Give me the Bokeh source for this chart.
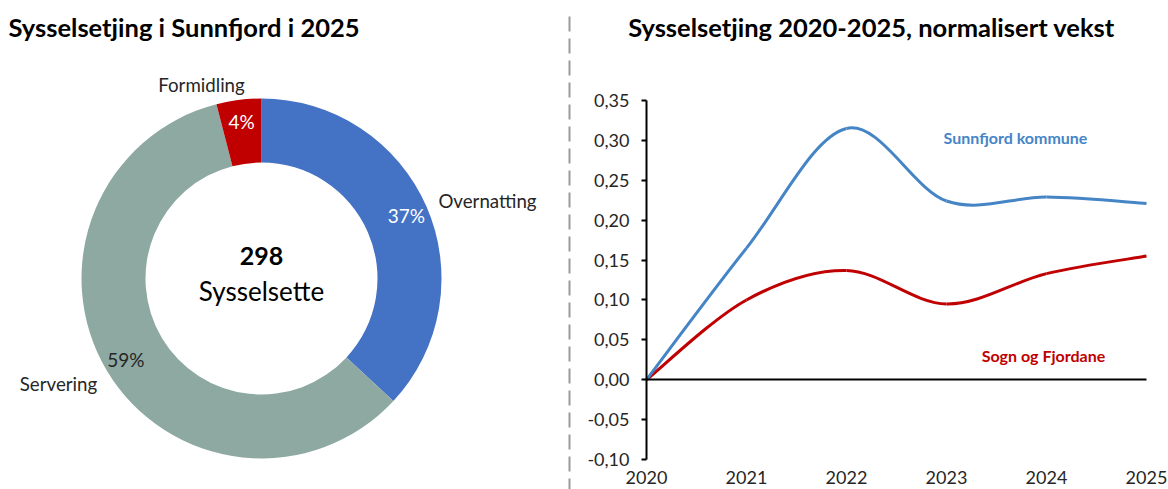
import math
from bokeh.plotting import figure
from bokeh.models import Range1d, LinearAxis, FixedTicker, CustomJSTickFormatter
from bokeh.core.properties import value
from bokeh.embed import file_html
from bokeh.resources import INLINE

# ---------------- data ----------------
donut_categories = ["Overnatting", "Servering", "Formidling"]
donut_values = [110, 176, 12]
donut_colors = ["#4472C4", "#8DA9A2", "#C00000"]
total_label = "298"
center_label = "Sysselsette"

years = [2020, 2021, 2022, 2023, 2024, 2025]
sunnfjord = [0.0, 0.165, 0.315, 0.224, 0.229, 0.221]
sogn_fjordane = [0.0, 0.100, 0.137, 0.095, 0.133, 0.155]
y_ticks = [-0.10, -0.05, 0.0, 0.05, 0.10, 0.15, 0.20, 0.25, 0.30, 0.35]

title_left = "Sysselsetjing i Sunnfjord i 2025"
title_right = "Sysselsetjing 2020-2025, normalisert vekst"
series_names = ["Sunnfjord kommune", "Sogn og Fjordane"]
series_colors = ["#4585C6", "#C00000"]

FONT = "Lato"
W, H = 1168, 489
OFF = 0  # page offset of the canvas

# ---------------- layout (page pixel targets) ----------------
px_x0, px_x1 = 646, 1146      # page x of first / last year
px_ytop, px_ybot = 100, 459   # page y of top / bottom y tick
ppx = (px_x1 - px_x0) / (years[-1] - years[0])
ppy = (px_ybot - px_ytop) / (y_ticks[-1] - y_ticks[0])
x_start = years[0] - (px_x0 - OFF) / ppx
x_end = years[-1] + (OFF + W - px_x1) / ppx
y_end = y_ticks[-1] + (px_ytop - OFF) / ppy
y_start = y_ticks[0] - (OFF + H - px_ybot) / ppy

p = figure(width=W, height=H, x_range=Range1d(x_start, x_end), y_range=Range1d(y_start, y_end),
           x_axis_location=None, y_axis_location=None, toolbar_location=None,
           output_backend="svg", min_border=0, outline_line_color=None)
p.grid.visible = False
p.background_fill_color = "white"
p.border_fill_color = "white"
p.extra_x_ranges = {"px": Range1d(OFF, OFF + W)}
p.extra_y_ranges = {"py": Range1d(0, H)}


def PY(page_y):
    return OFF + H - page_y


PX = dict(x_range_name="px", y_range_name="py")

# ---------------- donut ----------------
cx, cy = 261, 278
r_out, r_in = 180, 116
total = sum(donut_values)
starts, ends, mids = [], [], []
cum = 0.0
for v in donut_values:
    a0 = math.pi / 2 - 2 * math.pi * cum / total
    cum += v
    a1 = math.pi / 2 - 2 * math.pi * cum / total
    starts.append(a0)
    ends.append(a1)
    mids.append((a0 + a1) / 2)

p.annular_wedge(x=cx, y=PY(cy), inner_radius=r_in, outer_radius=r_out,
                start_angle=starts, end_angle=ends, direction="clock",
                fill_color=donut_colors, line_color=None, **PX)

# percentage labels
r_lbl = 158
pct_text = [f"{round(v / total * 100)}%" for v in donut_values]
pct_colors = ["white", "#262626", "white"]
p.text(x=[cx + r_lbl * math.cos(a) for a in mids],
       y=[PY(cy) + r_lbl * math.sin(a) for a in mids],
       text=pct_text, text_color=pct_colors, text_font=value(FONT),
       text_font_size="19px", text_align="center", text_baseline="middle", **PX)

# category labels (outside)
cat_pos = [(487, 200), (58, 383), (201, 84)]
p.text(x=[c[0] for c in cat_pos], y=[PY(c[1]) for c in cat_pos], text=donut_categories,
       text_color="#262626", text_font=value(FONT), text_font_size="18.7px",
       text_align="center", text_baseline="middle", **PX)

# center labels
p.text(x=[cx], y=[PY(255)], text=[total_label], text_color="black", text_font=value(FONT),
       text_font_style="bold", text_font_size="25px", text_align="center",
       text_baseline="middle", **PX)
p.text(x=[cx], y=[PY(290)], text=[center_label], text_color="black", text_font=value(FONT),
       text_font_size="26px", text_align="center", text_baseline="middle", **PX)

# titles
p.text(x=[8], y=[PY(26)], text=[title_left], text_color="black", text_font=value(FONT),
       text_font_style="bold", text_font_size="25.5px", text_align="left",
       text_baseline="middle", **PX)
p.text(x=[871], y=[PY(26)], text=[title_right], text_color="black", text_font=value(FONT),
       text_font_style="bold", text_font_size="25.5px", text_align="center",
       text_baseline="middle", **PX)

# separator
p.segment(x0=[569], y0=[PY(16)], x1=[569], y1=[PY(500)], line_color="#9A9A9A",
          line_width=2, line_dash="15 7", **PX)

# ---------------- line chart ----------------
def smooth(xs, ys):
    n = len(xs)
    out = dict(x0=[], y0=[], x1=[], y1=[], cx0=[], cy0=[], cx1=[], cy1=[])
    for i in range(n - 1):
        im1 = max(i - 1, 0)
        ip2 = min(i + 2, n - 1)
        out["x0"].append(xs[i]); out["y0"].append(ys[i])
        out["x1"].append(xs[i + 1]); out["y1"].append(ys[i + 1])
        out["cx0"].append(xs[i] + (xs[i + 1] - xs[im1]) / 6)
        out["cy0"].append(ys[i] + (ys[i + 1] - ys[im1]) / 6)
        out["cx1"].append(xs[i + 1] - (xs[ip2] - xs[i]) / 6)
        out["cy1"].append(ys[i + 1] - (ys[ip2] - ys[i]) / 6)
    return out

# zero axis line
zero_axis = LinearAxis(ticker=FixedTicker(ticks=[]), fixed_location=0, bounds=(years[0], years[-1]),
                       axis_line_color="black", axis_line_width=2,
                       major_tick_line_color=None, minor_tick_line_color=None,
                       major_label_text_alpha=0)
p.add_layout(zero_axis, "below")

for ys, col in [(sogn_fjordane, series_colors[1]), (sunnfjord, series_colors[0])]:
    p.bezier(**smooth(years, ys), line_color=col, line_width=3)

# y axis
yaxis = LinearAxis(ticker=FixedTicker(ticks=y_ticks),
                   formatter=CustomJSTickFormatter(code="return tick.toFixed(2).replace('.', ',')"),
                   fixed_location=years[0], bounds=(y_ticks[0], y_ticks[-1]),
                   axis_line_color="black", axis_line_width=2,
                   major_tick_line_color="black", major_tick_line_width=2,
                   major_tick_in=0, major_tick_out=5, minor_tick_line_color=None,
                   major_label_text_font=FONT, major_label_text_font_size="18px",
                   major_label_text_color="#262626", major_label_standoff=12)
p.add_layout(yaxis, "left")

# x axis labels (low)
xaxis = LinearAxis(ticker=FixedTicker(ticks=years),
                   formatter=CustomJSTickFormatter(code="return tick.toFixed(0)"),
                   fixed_location=y_ticks[0], axis_line_color=None,
                   major_tick_line_color=None, minor_tick_line_color=None,
                   major_tick_in=0, major_tick_out=0,
                   major_label_text_font=FONT, major_label_text_font_size="18px",
                   major_label_text_color="#262626", major_label_standoff=11)
p.add_layout(xaxis, "below")

# series labels
p.text(x=[1015, 1043], y=[PY(137), PY(355)], text=series_names, text_color=series_colors,
       text_font=value(FONT), text_font_style="bold", text_font_size="16px",
       text_align="center", text_baseline="middle", **PX)

open("out.html", "w").write(file_html(p, INLINE))
